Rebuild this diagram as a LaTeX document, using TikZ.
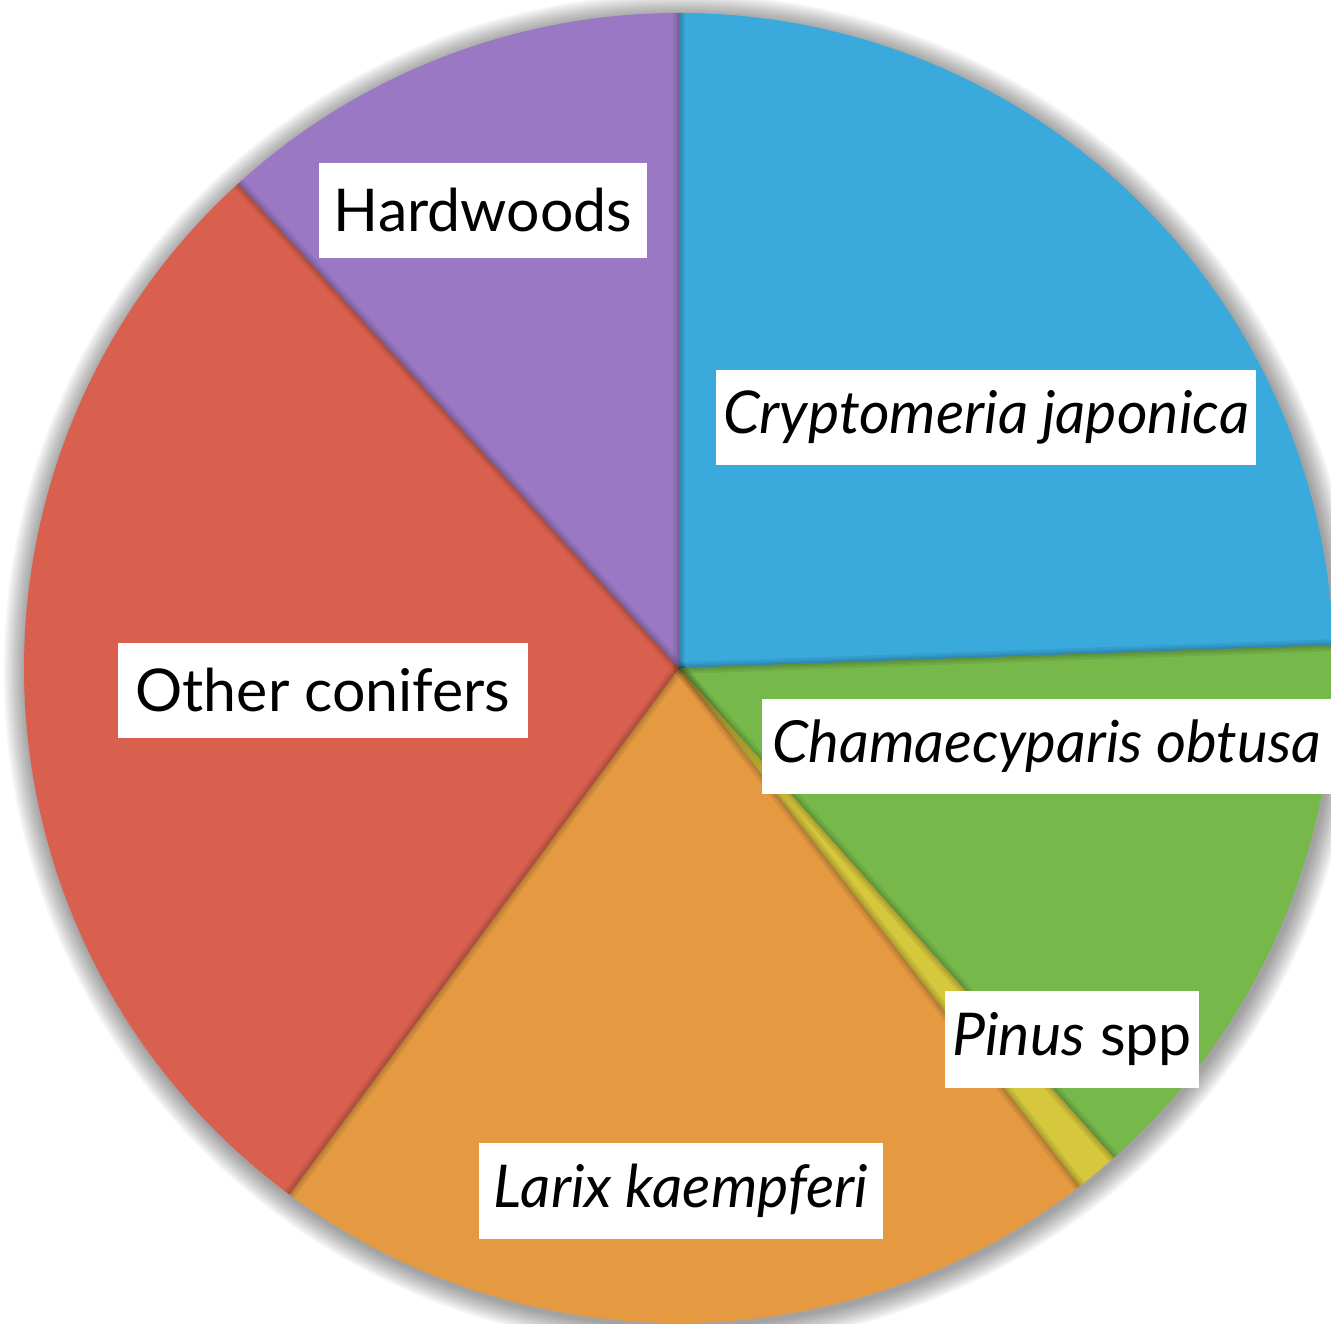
\documentclass[tikz,border=0pt]{standalone}
\usepackage{fontspec}
\setmainfont{Lato}
\usetikzlibrary{calc}
\definecolor{cblue}{HTML}{3AAADC}
\definecolor{cgreen}{HTML}{76B84A}
\definecolor{cyellow}{HTML}{D6C83C}
\definecolor{corange}{HTML}{E59A42}
\definecolor{cred}{HTML}{D9604F}
\definecolor{cpurple}{HTML}{9A78C4}
\begin{document}
\begin{tikzpicture}[x=1pt,y=1pt,
  lbl/.style={fill=white, inner sep=0pt, minimum height=95pt, text=black,
    font=\fontsize{59}{62}\selectfont},
  seam/.style={black, opacity=0.07}]
\useasboundingbox (0,0) rectangle (1331,1324);
\clip (0,0) rectangle (1331,1324);
\coordinate (c) at (679,656);
% drop shadow
\foreach \i in {1,...,16}
  \fill[black,opacity=0.028] ($(c)+(2,-3)$) circle ({655+\i*1.4});
% slices
\fill[cblue]   (c) -- ++(90:655)    arc[start angle=90,    end angle=2,      radius=655] -- cycle;
\fill[cgreen]  (c) -- ++(2:655)     arc[start angle=2,     end angle=-48.4,  radius=655] -- cycle;
\fill[cyellow] (c) -- ++(-48.4:655) arc[start angle=-48.4, end angle=-52.3,  radius=655] -- cycle;
\fill[corange] (c) -- ++(-52.3:655) arc[start angle=-52.3, end angle=-126.5, radius=655] -- cycle;
\fill[cred]    (c) -- ++(-126.5:655) arc[start angle=-126.5, end angle=-227.7, radius=655] -- cycle;
\fill[cpurple] (c) -- ++(132.3:655) arc[start angle=132.3, end angle=90,     radius=655] -- cycle;
% seams
\begin{scope}
  \clip (c) circle (655);
  \foreach \a in {90,2,-48.4,-52.3,-126.5,132.3}
    \foreach \w in {12,7,3}
      \draw[seam, line width=\w pt] (c) -- ++(\a:660);
\end{scope}
% labels
\node[lbl, minimum width=328pt] (hard) at (483,1113.5) {Hardwoods};
\node[lbl, minimum width=540pt] (cryp) at (986,906.5) {\itshape Cryptomeria japonica};
\node[lbl, minimum width=569pt, font=\fontsize{58}{62}\selectfont] (cham) at (1046.5,577.5) {\itshape Chamaecyparis obtusa};
\node[lbl, minimum width=410pt] (other) at (323,633.5) {Other conifers};
\node[lbl, minimum width=254pt, minimum height=97pt] (pinus) at (1072,284.5) {\itshape Pinus\upshape\ spp};
\node[lbl, minimum width=404pt, minimum height=96pt] (larix) at (681,133) {\itshape Larix kaempferi};
\end{tikzpicture}
\end{document}
